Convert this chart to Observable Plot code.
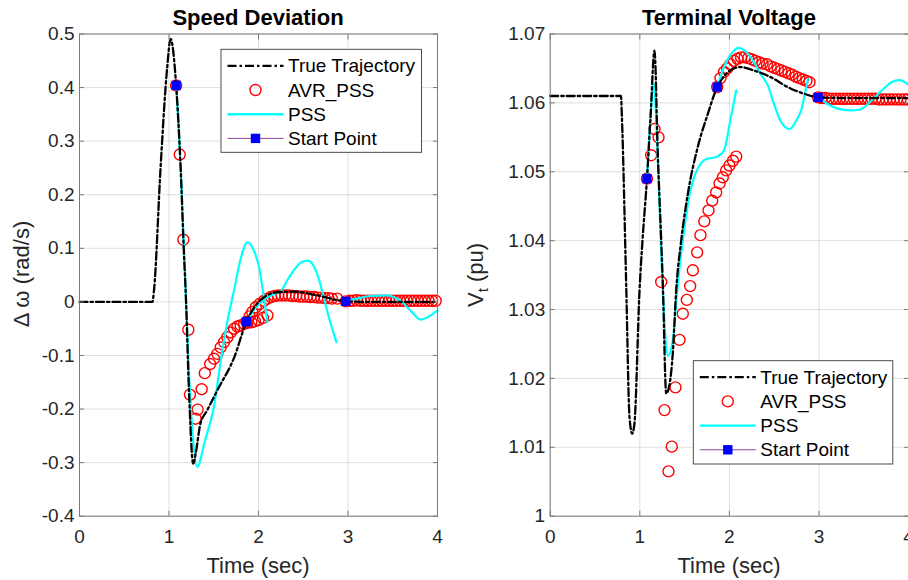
<!DOCTYPE html>
<html><head><meta charset="utf-8">
<script src="https://cdn.jsdelivr.net/npm/d3@7"></script>
<script src="https://cdn.jsdelivr.net/npm/@observablehq/plot@0.6"></script>
<style>
html,body{margin:0;padding:0;overflow:hidden;background:#fff;width:908px;height:580px;}
#wrap{position:relative;width:908px;height:580px;overflow:hidden;font-family:"Liberation Sans",Arial,Helvetica,sans-serif;}
#wrap > svg{position:absolute;top:0;}
</style></head><body><div id="wrap"></div>
<script>
// ---------- tick values ----------
const xTicks = [0, 1, 2, 3, 4];
const wTicks = [-0.4, -0.3, -0.2, -0.1, 0, 0.1, 0.2, 0.3, 0.4, 0.5];
const vTicks = [1, 1.01, 1.02, 1.03, 1.04, 1.05, 1.06, 1.07];
const legendLabels = ["True Trajectory", "AVR_PSS", "PSS", "Start Point"];
const titles = ["Speed Deviation", "Terminal Voltage"];
const xLabel = "Time (sec)";

// ---------- Speed deviation (left) ----------
const wTrue = [[0,0],[0.815,0],[0.832,0.021],[0.906,0.251],[0.98,0.438],[1.018,0.491],[1.08,0.404],[1.13,0.251],[1.167,0.09],[1.186,0.021],[1.223,-0.165],[1.27,-0.302],[1.298,-0.283],[1.35,-0.228],[1.425,-0.203],[1.54,-0.165],[1.73,-0.103],[1.865,-0.037],[2.02,0.003],[2.21,0.018],[2.40,0.019],[2.66,0.012],[2.98,0.001],[3.3,0],[3.6,0],[4.0,0]];
const wPss1 = [[1.08,0.404],[1.13,0.251],[1.17,0.09],[1.22,-0.12],[1.27,-0.26],[1.316,-0.308],[1.40,-0.26],[1.50,-0.197],[1.596,-0.091],[1.66,-0.03],[1.726,0.021],[1.80,0.08],[1.876,0.111],[1.95,0.095],[2.006,0.065],[2.05,0.02],[2.10,-0.038]];
const wPss2 = [[1.865,-0.037],[1.95,-0.015],[2.05,0.003],[2.15,0.013],[2.25,0.02],[2.32,0.04],[2.40,0.06],[2.48,0.074],[2.55,0.077],[2.62,0.066],[2.67,0.045],[2.71,0.021],[2.78,-0.025],[2.87,-0.075]];
const wPss3 = [[2.975,0.001],[3.1,0.006],[3.25,0.011],[3.44,0.012],[3.6,0.0],[3.72,-0.02],[3.81,-0.033],[3.9,-0.028],[4.0,-0.016]];
const wAvr1 = [[1.08,0.404],[1.12,0.275],[1.16,0.116],[1.216,-0.052],[1.234,-0.173],[1.297,-0.218],[1.32,-0.201],[1.365,-0.163],[1.40,-0.133],[1.46,-0.116],[1.503,-0.106],[1.54,-0.097],[1.577,-0.085],[1.615,-0.075],[1.652,-0.066],[1.69,-0.057],[1.727,-0.050],[1.764,-0.046],[1.80,-0.044],[1.84,-0.041],[1.876,-0.039],[1.92,-0.038],[1.96,-0.036],[2.00,-0.034],[2.05,-0.030],[2.10,-0.025]];
const wAvr2 = [[1.865,-0.037],[1.90,-0.027],[1.93,-0.019],[1.97,-0.010],[2.01,-0.004],[2.06,0.002],[2.10,0.006],[2.14,0.009],[2.18,0.011],[2.22,0.012],[2.26,0.012],[2.30,0.012],[2.34,0.012],[2.38,0.011],[2.42,0.011],[2.46,0.010],[2.50,0.010],[2.54,0.010],[2.58,0.009],[2.62,0.009],[2.66,0.008],[2.70,0.008],[2.74,0.007],[2.78,0.007],[2.82,0.006],[2.88,0.006]];
const wAvr3 = [[2.975,0.001],[3.02,0.002],[3.06,0.002],[3.10,0.003],[3.14,0.002],[3.18,0.002],[3.22,0.002],[3.26,0.002],[3.30,0.002],[3.34,0.002],[3.38,0.002],[3.42,0.002],[3.46,0.002],[3.50,0.002],[3.54,0.002],[3.58,0.002],[3.62,0.002],[3.66,0.002],[3.70,0.002],[3.74,0.002],[3.78,0.002],[3.82,0.002],[3.86,0.002],[3.90,0.002],[3.94,0.002],[3.98,0.002]];
const wStart = [[1.08,0.404],[1.865,-0.037],[2.975,0.001]];

// ---------- Terminal voltage (right) ----------
const vTrue = [[0,1.061],[0.79,1.061],[0.80,1.058],[0.848,1.0337],[0.885,1.0144],[0.915,1.012],[0.94,1.0134],[0.997,1.0328],[1.03,1.040],[1.08,1.049],[1.12,1.058],[1.164,1.0676],[1.20,1.053],[1.257,1.0337],[1.295,1.0178],[1.33,1.019],[1.368,1.0236],[1.406,1.0328],[1.462,1.040],[1.536,1.0468],[1.647,1.0536],[1.759,1.0584],[1.864,1.0623],[1.95,1.0640],[2.05,1.0650],[2.13,1.0652],[2.25,1.0648],[2.466,1.0637],[2.65,1.0623],[2.84,1.0613],[2.99,1.0608],[3.3,1.0607],[3.6,1.0607],[4.0,1.0607]];
const vPss1 = [[1.08,1.049],[1.12,1.058],[1.157,1.0628],[1.20,1.052],[1.257,1.0328],[1.313,1.0233],[1.368,1.0255],[1.424,1.0337],[1.50,1.042],[1.56,1.047],[1.62,1.0497],[1.75,1.0519],[1.80,1.0520],[1.864,1.0522],[1.94,1.0531],[2.01,1.0574],[2.076,1.0618]];
const vPss2 = [[1.864,1.0623],[1.95,1.0655],[2.03,1.0673],[2.105,1.068],[2.18,1.0675],[2.27,1.0660],[2.348,1.0642],[2.43,1.0625],[2.496,1.0599],[2.57,1.0574],[2.67,1.0562],[2.75,1.0575],[2.80,1.0589],[2.875,1.0635]];
const vPss3 = [[2.99,1.0608],[3.1,1.0598],[3.2,1.0592],[3.35,1.0589],[3.45,1.0590],[3.6,1.0605],[3.7,1.0618],[3.81,1.0630],[3.9,1.0633],[4.0,1.0626]];
const vAvr1 = [[1.08,1.049],[1.127,1.0524],[1.164,1.0562],[1.209,1.055],[1.239,1.034],[1.276,1.0154],[1.32,1.0065],[1.357,1.0101],[1.398,1.0187],[1.443,1.0256],[1.48,1.0294],[1.525,1.0314],[1.562,1.0334],[1.592,1.0357],[1.64,1.0383],[1.677,1.0408],[1.72,1.0428],[1.767,1.0444],[1.808,1.0458],[1.852,1.047],[1.89,1.0483],[1.926,1.0492],[1.964,1.0502],[2.0,1.0509],[2.04,1.0516],[2.076,1.0522]];
const vAvr2 = [[1.864,1.0623],[1.90,1.0636],[1.94,1.0645],[1.975,1.065],[2.01,1.0656],[2.05,1.0661],[2.09,1.0664],[2.13,1.0666],[2.17,1.0666],[2.21,1.0665],[2.25,1.0663],[2.29,1.0661],[2.33,1.0659],[2.37,1.0657],[2.42,1.0656],[2.46,1.0653],[2.50,1.0651],[2.54,1.0649],[2.58,1.0647],[2.62,1.0645],[2.66,1.0643],[2.70,1.0641],[2.74,1.0638],[2.78,1.0636],[2.82,1.0634],[2.86,1.0632],[2.894,1.063]];
const vAvr3 = [[2.99,1.0608],[3.03,1.0607],[3.07,1.0607],[3.11,1.0606],[3.15,1.0606],[3.19,1.0606],[3.23,1.0606],[3.27,1.0606],[3.31,1.0606],[3.35,1.0606],[3.39,1.0606],[3.43,1.0606],[3.47,1.0606],[3.51,1.0606],[3.55,1.0606],[3.59,1.0606],[3.63,1.0606],[3.67,1.0605],[3.71,1.0605],[3.75,1.0605],[3.79,1.0605],[3.83,1.0605],[3.87,1.0605],[3.91,1.0605],[3.95,1.0605],[3.99,1.0605]];
const vStart = [[1.08,1.049],[1.864,1.0623],[2.99,1.0608]];

// ---------- helpers ----------
const FONT = '"Liberation Sans", Arial, Helvetica, sans-serif';
const toRows = (segs) => segs.flatMap((s, k) => s.map(([t, v]) => ({t, v, seg: k})));
const pts = (s) => s.map(([t, v]) => ({t, v}));
const DASH = "8,3,2.5,3";
const AX = "#262626";

function panel({width, marginLeft, marginRight, yDomain, yTicks, trueL, pss, avr, starts}) {
  return Plot.plot({
    width, height: 580,
    marginLeft, marginRight, marginTop: 33.5, marginBottom: 64.3,
    style: {fontFamily: FONT, fontSize: "19px", color: AX, background: "transparent", overflow: "visible"},
    x: {domain: [0, 4], label: null},
    y: {domain: yDomain, label: null},
    marks: [
      Plot.gridX(xTicks, {stroke: AX, strokeOpacity: 0.14, strokeWidth: 1}),
      Plot.gridY(yTicks, {stroke: AX, strokeOpacity: 0.14, strokeWidth: 1}),
      Plot.dot(toRows(avr), {x: "t", y: "v", r: 5.5, stroke: "#ff0000", strokeWidth: 1.4, fill: "none"}),
      Plot.line(toRows(pss), {x: "t", y: "v", z: "seg", stroke: "#00ffff", strokeWidth: 2.2, curve: "monotone-x"}),
      Plot.line(pts(trueL), {x: "t", y: "v", stroke: "#000", strokeWidth: 2.3, strokeDasharray: DASH, curve: "monotone-x"}),
      Plot.dot(pts(starts), {x: "t", y: "v", symbol: "square", r: 5.3, fill: "#0000ff", stroke: "none"}),
      Plot.frame({stroke: "#7a7a7a", strokeWidth: 1}),
      Plot.axisX(xTicks, {anchor: "bottom", tickSize: -5, tickPadding: 17.8, tickFormat: (d) => String(d), stroke: "#7a7a7a", fill: AX, label: null}),
      Plot.axisX(xTicks, {anchor: "top", tickSize: -5, tickFormat: () => "", stroke: "#7a7a7a", label: null}),
      Plot.axisY(yTicks, {anchor: "left", tickSize: -5, tickPadding: 10, tickFormat: (d) => String(d), stroke: "#7a7a7a", fill: AX, label: null}),
      Plot.axisY(yTicks, {anchor: "right", tickSize: -5, tickFormat: () => "", stroke: "#7a7a7a", label: null})
    ]
  });
}

const wrap = document.getElementById("wrap");
const left = panel({width: 454, marginLeft: 79, marginRight: 17, yDomain: [-0.4, 0.5], yTicks: wTicks,
  trueL: wTrue, pss: [wPss1, wPss2, wPss3], avr: [wAvr1, wAvr2, wAvr3], starts: wStart});
left.style.left = "0px";
wrap.appendChild(left);
const right = panel({width: 470, marginLeft: 95.7, marginRight: 15.9, yDomain: [1, 1.07], yTicks: vTicks,
  trueL: vTrue, pss: [vPss1, vPss2, vPss3], avr: [vAvr1, vAvr2, vAvr3], starts: vStart});
right.style.left = "454px";
wrap.appendChild(right);

// ---------- overlay: titles, labels, legends ----------
const ov = d3.select(wrap).append("svg").attr("width", 908).attr("height", 580)
  .style("left", "0px").style("font-family", FONT).style("pointer-events", "none");

ov.append("text").attr("x", 258).attr("y", 24.5).attr("text-anchor", "middle")
  .attr("font-size", 22).attr("font-weight", "bold").attr("fill", "#000").text(titles[0]);
ov.append("text").attr("x", 729).attr("y", 24.5).attr("text-anchor", "middle")
  .attr("font-size", 22).attr("font-weight", "bold").attr("fill", "#000").text(titles[1]);
ov.append("text").attr("x", 258).attr("y", 573).attr("text-anchor", "middle")
  .attr("font-size", 22).attr("fill", AX).text(xLabel);
ov.append("text").attr("x", 729).attr("y", 573).attr("text-anchor", "middle")
  .attr("font-size", 22).attr("fill", AX).text(xLabel);
ov.append("text").attr("transform", "translate(28.5,274) rotate(-90)").attr("text-anchor", "middle")
  .attr("font-size", 22).attr("fill", AX).text("\u0394 \u03c9 (rad/s)");
const vl = ov.append("text").attr("transform", "translate(482.5,275) rotate(-90)").attr("text-anchor", "middle")
  .attr("font-size", 22).attr("fill", AX);
vl.append("tspan").text("V");
vl.append("tspan").attr("font-size", 15).attr("dy", 5).text("t");
vl.append("tspan").attr("dy", -5).text(" (pu)");

function legend(x0, y0, w, h) {
  const g = ov.append("g").attr("transform", `translate(${x0},${y0})`);
  g.append("rect").attr("width", w).attr("height", h).attr("fill", "#fff")
    .attr("stroke", "#3a3a3a").attr("stroke-width", 0.9);
  const rows = [16.5, 40.7, 64.9, 89.1];
  const a = 6.5, b = 62.5, c = 34.5;
  g.append("line").attr("x1", a).attr("x2", b).attr("y1", rows[0]).attr("y2", rows[0])
    .attr("stroke", "#000").attr("stroke-width", 2.3).attr("stroke-dasharray", "9,3,2.5,3");
  g.append("circle").attr("cx", c).attr("cy", rows[1]).attr("r", 5.5)
    .attr("fill", "none").attr("stroke", "#ff0000").attr("stroke-width", 1.4);
  g.append("line").attr("x1", a).attr("x2", b).attr("y1", rows[2]).attr("y2", rows[2])
    .attr("stroke", "#00ffff").attr("stroke-width", 2.4);
  g.append("line").attr("x1", a).attr("x2", b).attr("y1", rows[3]).attr("y2", rows[3])
    .attr("stroke", "#7e2f8e").attr("stroke-width", 0.9);
  g.append("rect").attr("x", c - 4.7).attr("y", rows[3] - 4.7).attr("width", 9.4).attr("height", 9.4)
    .attr("fill", "#0000ff");
  legendLabels.forEach((lab, i) => {
    g.append("text").attr("x", 67).attr("y", rows[i]).attr("dy", "0.35em")
      .attr("font-size", 19).attr("fill", "#000").text(lab);
  });
}
legend(221, 49.3, 200.5, 103);
legend(693.3, 360.7, 199.5, 103.3);
</script></body></html>
